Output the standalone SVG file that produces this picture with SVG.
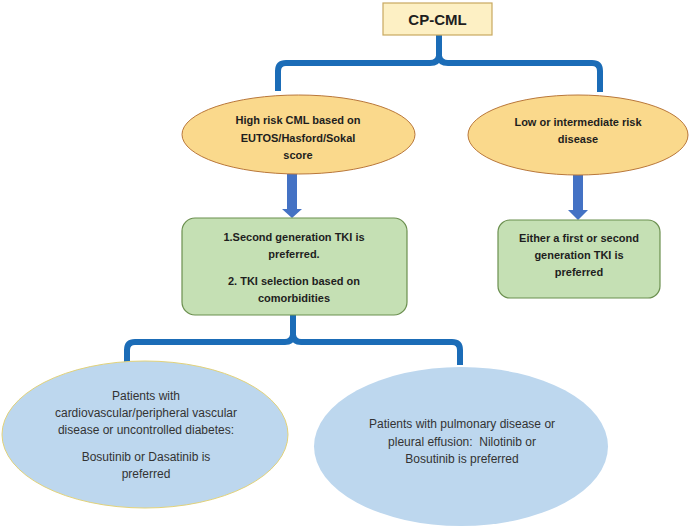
<svg xmlns="http://www.w3.org/2000/svg" width="690" height="528" viewBox="0 0 690 528">
<defs>
<style>
.b{font-family:"Liberation Sans",Arial,sans-serif;font-weight:bold;font-size:11px;fill:#1e1e1e;text-anchor:middle}
.r{font-family:"Liberation Sans",Arial,sans-serif;font-size:12px;fill:#333;text-anchor:middle}
.brace{fill:none;stroke:#1b6cb7;stroke-width:6;stroke-linejoin:round}
.arrow{fill:#4472c4}
.orange{fill:#fad98c;stroke:#b9773a;stroke-width:1}
.green{fill:#c5e0b4;stroke:#6b8f4f;stroke-width:1.2}
.blue{fill:#bdd7ee}
</style>
</defs>
<rect width="690" height="528" fill="#fff"/>
<g id="connectors">
<path class="brace" d="M278,91 V71 Q278,63 286,63 H430 Q438,63 439,56 V35 M600,92 V71 Q600,63 592,63 H448 Q440,63 439,56"/>
<path class="brace" d="M127,362 V350 Q127,342 135,342 H285 Q292,342 293,335 V315 M460,365 V350 Q460,342 452,342 H301 Q294,342 293,335"/>
<path class="arrow" d="M287,174 H297 V209 H302 L292,218 L282,209 H287 Z"/>
<path class="arrow" d="M573,175 H583 V210 H588 L578,220 L568,210 H573 Z"/>
</g>
<g id="cp-cml">
<rect x="383" y="3" width="109" height="32" fill="#fdf0c4" stroke="#c8a860" stroke-width="1.2"/>
<text class="b" x="437.5" y="25" style="font-size:15px">CP-CML</text>
</g>
<g id="high-risk">
<ellipse class="orange" cx="298.5" cy="134.5" rx="116.5" ry="39.5"/>
<text class="b" x="298" y="124">High risk CML based on</text>
<text class="b" x="298" y="142">EUTOS/Hasford/Sokal</text>
<text class="b" x="298" y="159">score</text>
</g>
<g id="low-risk">
<ellipse class="orange" cx="578" cy="135" rx="110" ry="40"/>
<text class="b" x="578" y="126">Low or intermediate risk</text>
<text class="b" x="578" y="143">disease</text>
</g>
<g id="second-gen">
<rect class="green" x="182" y="218" width="225" height="97" rx="13"/>
<text class="b" x="294" y="241">1.Second generation TKI is</text>
<text class="b" x="294" y="258">preferred.</text>
<text class="b" x="294" y="285">2. TKI selection based on</text>
<text class="b" x="294" y="302">comorbidities</text>
</g>
<g id="either-gen">
<rect class="green" x="498" y="220" width="162" height="78" rx="12"/>
<text class="b" x="579" y="242">Either a first or second</text>
<text class="b" x="579" y="259">generation TKI is</text>
<text class="b" x="579" y="276">preferred</text>
</g>
<g id="cardio">
<ellipse class="blue" cx="145" cy="434.5" rx="143" ry="73.5" stroke="#e2d27a" stroke-width="1"/>
<text class="r" x="146" y="400">Patients with</text>
<text class="r" x="146" y="417">cardiovascular/peripheral vascular</text>
<text class="r" x="146" y="434">disease or uncontrolled diabetes:</text>
<text class="r" x="146" y="461">Bosutinib or Dasatinib is</text>
<text class="r" x="146" y="478">preferred</text>
</g>
<g id="pulmonary">
<ellipse class="blue" cx="461" cy="446.5" rx="147" ry="79.5"/>
<text class="r" x="462" y="428">Patients with pulmonary disease or</text>
<text class="r" x="462" y="446" xml:space="preserve">pleural effusion:  Nilotinib or</text>
<text class="r" x="462" y="463">Bosutinib is preferred</text>
</g>
</svg>
